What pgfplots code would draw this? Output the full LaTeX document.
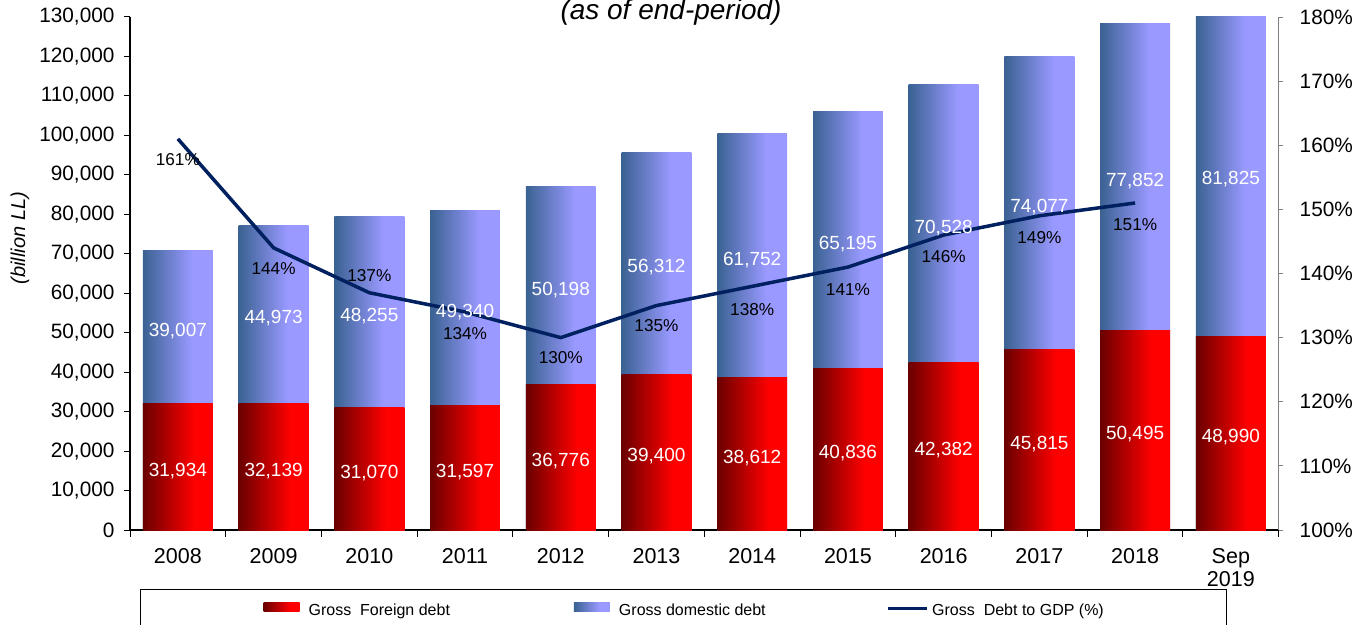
\documentclass[border=0pt]{standalone}
\usepackage{fontspec}
\setmainfont{Liberation Sans}
\usepackage{pgfplots}
\pgfplotsset{compat=1.18}
\usepackage{pgfplotstable}

\definecolor{rdark}{HTML}{6A0000}
\definecolor{rbright}{HTML}{FF0000}
\definecolor{bdark}{HTML}{3A6292}
\definecolor{blight}{HTML}{9999FF}
\definecolor{navy}{HTML}{002060}
\definecolor{axgrey}{HTML}{808080}

\pgfdeclarehorizontalshading{redgrad}{100bp}{color(0bp)=(rdark); color(25bp)=(rdark); color(62bp)=(rbright); color(100bp)=(rbright)}
\pgfdeclarehorizontalshading{bluegrad}{100bp}{color(0bp)=(bdark); color(25bp)=(bdark); color(60bp)=(blight); color(100bp)=(blight)}

\pgfplotstableread{
x f d fl dl
0 31934 39007 31,934 39,007
1 32139 44973 32,139 44,973
2 31070 48255 31,070 48,255
3 31597 49340 31,597 49,340
4 36776 50198 36,776 50,198
5 39400 56312 39,400 56,312
6 38612 61752 38,612 61,752
7 40836 65195 40,836 65,195
8 42382 70528 42,382 70,528
9 45815 74077 45,815 74,077
10 50495 77852 50,495 77,852
11 48990 81825 48,990 81,825
}\debt

\pgfplotstableread{
x r rl dy
0 161 161 -21
1 144 144 -21
2 137 137 17
3 134 134 -22
4 130 130 -20
5 135 135 -20
6 138 138 -23
7 141 141 -22
8 146 146 -22
9 149 149 -22
10 151 151 -22
}\ratio

\pgfplotsset{geom/.style={at={(130pt,94pt)}, anchor=south west, scale only axis, width=1148.7pt, height=513pt, xmin=-0.5, xmax=11.5}}

\begin{document}
\begin{tikzpicture}
\begin{axis}[geom,
  ymin=0, ymax=130000,
  axis x line*=bottom, axis y line*=left,
  axis line style={line width=1.2pt, black, -},
  xtick={0,...,11},
  xticklabels={2008,2009,2010,2011,2012,2013,2014,2015,2016,2017,2018,{Sep\\2019}},
  xticklabel style={align=center, font=\fontsize{21.5}{22.5}\selectfont, yshift=-9pt},
  minor xtick={-0.5,0.5,...,11.5},
  major x tick style={draw=none},
  tick align=outside, major tick length=6pt, minor tick length=7pt,
  tick style={black, line width=1pt},
  ytick={0,10000,20000,30000,40000,50000,60000,70000,80000,90000,100000,110000,120000,130000},
  yticklabels={0,{10,000},{20,000},{30,000},{40,000},{50,000},{60,000},{70,000},{80,000},{90,000},{100,000},{110,000},{120,000},{130,000}},
  scaled y ticks=false,
  yticklabel style={font=\fontsize{20.8}{22}\selectfont, xshift=-6pt},
  title={(as of end-period)},
  title style={at={(axis description cs:0.471,0.984)}, anchor=base, font=\itshape\fontsize{28}{30}\selectfont},
  ylabel={(billion LL)},
  every axis y label/.style={at={(axis description cs:-0.0958,0.569)}, rotate=90, anchor=center, font=\itshape\fontsize{20}{22}\selectfont},
]
\pgfplotsinvokeforeach{0,...,11}{
  \addplot[ybar, bar width=0.73, bar shift=0pt, draw=none, shading=bluegrad,
    restrict expr to domain={\coordindex}{#1:#1}]
    table[x=x, y expr=\thisrow{f}+\thisrow{d}]{\debt};
  \addplot[ybar, bar width=0.73, bar shift=0pt, draw=none, shading=redgrad,
    restrict expr to domain={\coordindex}{#1:#1}]
    table[x=x, y=f]{\debt};
}
\end{axis}

\begin{axis}[geom, ymin=100, ymax=180, clip=false,
  axis y line*=right, axis x line=none,
  y axis line style={axgrey, line width=1pt, -},
  ytick={100,110,120,130,140,150,160,170,180},
  yticklabels={100\%,110\%,120\%,130\%,140\%,150\%,160\%,170\%,180\%},
  yticklabel style={font=\fontsize{20.8}{22}\selectfont, xshift=13pt},
  tick align=outside, major tick length=4.5pt,
  ytick style={axgrey, line width=1pt},
]
\addplot[navy, line width=3.5pt, mark=none,
  nodes near coords={\pgfplotspointmeta\%}, point meta=explicit symbolic,
  visualization depends on={\thisrow{dy} \as \labdy},
  every node near coord/.append style={text=black, anchor=center, yshift=\labdy pt, font=\fontsize{17.2}{18}\selectfont}]
  table[x=x,y=r,meta=rl]{\ratio};
\end{axis}

\begin{axis}[geom, hide axis, ymin=0, ymax=130000, clip=false]
\addplot[draw=none, nodes near coords={\pgfplotspointmeta}, point meta=explicit symbolic,
  every node near coord/.append style={anchor=center, yshift=-4pt, text=white, font=\fontsize{19}{20}\selectfont}]
  table[x=x, y expr=\thisrow{f}/2, meta=fl]{\debt};
\addplot[draw=none, nodes near coords={\pgfplotspointmeta}, point meta=explicit symbolic,
  every node near coord/.append style={anchor=center, yshift=-4pt, text=white, font=\fontsize{19}{20}\selectfont}]
  table[x=x, y expr=\thisrow{f}+\thisrow{d}/2, meta=dl]{\debt};
\end{axis}

\begin{axis}[geom, hide axis, ymin=0, ymax=1,
  legend columns=3,
  legend style={at={(0.0087,-0.115)}, anchor=north west, draw=black, line width=1.2pt,
    inner xsep=123pt, inner ysep=13pt, font=\fontsize{16}{18}\selectfont,
    nodes={inner sep=0pt},
    /tikz/column 1/.style={column sep=9pt},
    /tikz/column 2/.style={column sep=124pt},
    /tikz/column 3/.style={column sep=9pt},
    /tikz/column 4/.style={column sep=121pt},
    /tikz/column 5/.style={column sep=3pt}},
]
\addlegendimage{legend image code/.code={\path[draw=none, shading=redgrad] (0pt,-1pt) rectangle (36pt,8pt);}}
\addlegendentry{Gross\ \ Foreign debt}
\addlegendimage{legend image code/.code={\path[draw=none, shading=bluegrad] (0pt,-1pt) rectangle (36pt,8pt);}}
\addlegendentry{Gross domestic debt}
\addlegendimage{legend image code/.code={\draw[navy, line width=3.5pt] (0pt,2pt) -- (39pt,2pt);}}
\addlegendentry{Gross\ \ Debt to GDP (\%)}
\end{axis}
\pgfresetboundingbox
\useasboundingbox (0,0) rectangle (1364pt,624pt);
\end{tikzpicture}
\end{document}
